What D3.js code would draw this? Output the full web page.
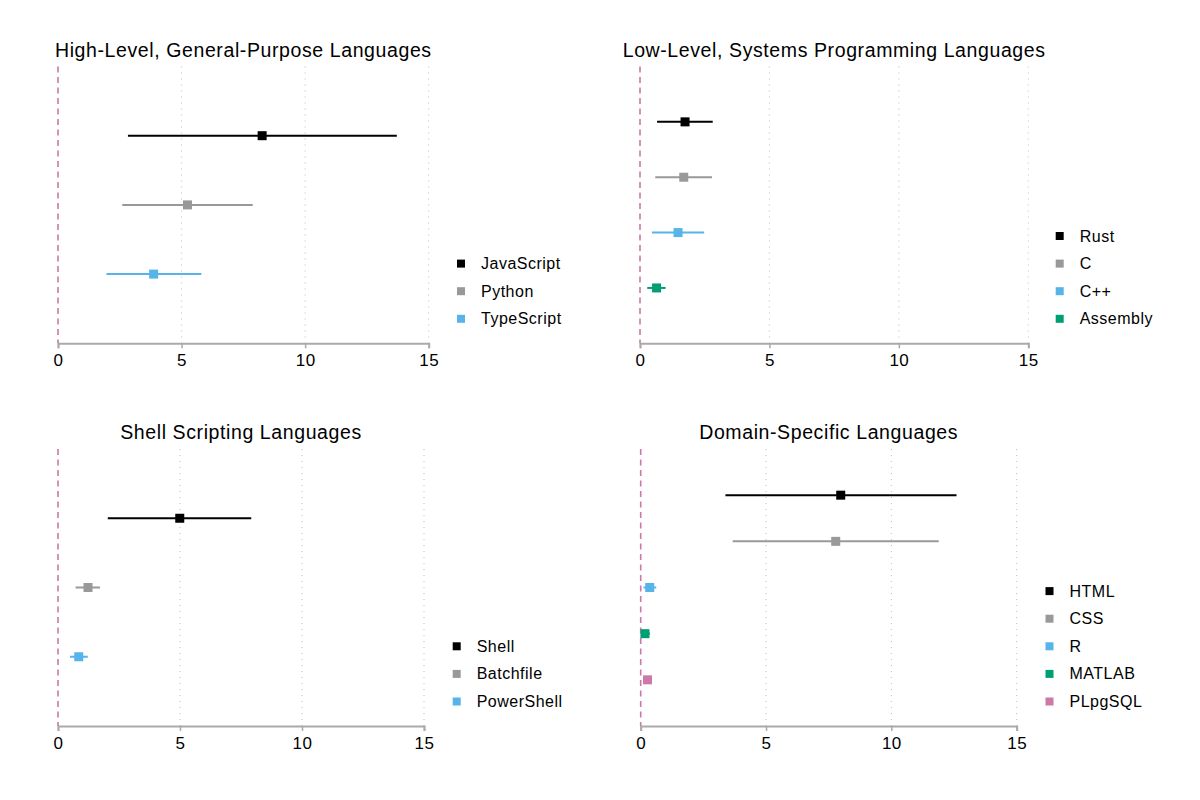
<!DOCTYPE html>
<html>
<head>
<meta charset="utf-8">
<script src="https://cdn.jsdelivr.net/npm/d3@7"></script>
<style>
  body { margin: 0; background: #fff; }
  text { font-family: "Liberation Sans", Arial, sans-serif; fill: #000; }
</style>
</head>
<body>
<div id="chart-container"></div>
<script>
// Panel titles
const titles = [
  "High-Level, General-Purpose Languages",
  "Low-Level, Systems Programming Languages",
  "Shell Scripting Languages",
  "Domain-Specific Languages",
];

// High-level languages: estimate with lower / upper bound
const highLevelLangs = ["JavaScript", "Python", "TypeScript"];
const highLevelEst = [8.26, 5.24, 3.87];
const highLevelLow = [2.83, 2.6, 1.96];
const highLevelHigh = [13.71, 7.88, 5.8];

// Systems languages
const systemsLangs = ["Rust", "C", "C++", "Assembly"];
const systemsEst = [1.74, 1.69, 1.47, 0.64];
const systemsLow = [0.66, 0.59, 0.46, 0.28];
const systemsHigh = [2.81, 2.78, 2.48, 0.99];

// Shell languages
const shellLangs = ["Shell", "Batchfile", "PowerShell"];
const shellEst = [4.99, 1.23, 0.85];
const shellLow = [2.04, 0.72, 0.49];
const shellHigh = [7.92, 1.72, 1.22];

// Domain-specific languages
const domainLangs = ["HTML", "CSS", "R", "MATLAB", "PLpgSQL"];
const domainEst = [7.98, 7.78, 0.36, 0.17, 0.27];
const domainLow = [3.38, 3.67, 0.11, 0.02, 0.2];
const domainHigh = [12.6, 11.89, 0.62, 0.37, 0.34];

// Shared x ticks and series colours
const xTicks = [0, 5, 10, 15];
const palette = ["#000000", "#999999", "#56B4E9", "#009E73", "#CC79A7"];

const width = 1200;
const height = 800;

// Plot box of each panel
const panels = [
  { langs: highLevelLangs, est: highLevelEst, low: highLevelLow, high: highLevelHigh,
    left: 58, right: 428.7, top: 66.5, bottom: 343.3, legendX: 461 },
  { langs: systemsLangs, est: systemsEst, low: systemsLow, high: systemsHigh,
    left: 640, right: 1028.3, top: 66.5, bottom: 343.3, legendX: 1059.7 },
  { langs: shellLangs, est: shellEst, low: shellLow, high: shellHigh,
    left: 58, right: 424, top: 449, bottom: 726, legendX: 456.7 },
  { langs: domainLangs, est: domainEst, low: domainLow, high: domainHigh,
    left: 640.7, right: 1016.7, top: 449, bottom: 726, legendX: 1049.5 },
];

const svg = d3
  .select("#chart-container")
  .append("svg")
  .attr("width", width)
  .attr("height", height);

panels.forEach((p, pi) => {
  const data = p.langs.map((name, i) => ({
    name,
    est: p.est[i],
    low: p.low[i],
    high: p.high[i],
    color: palette[i],
  }));

  const xScale = d3.scaleLinear().domain([0, 15]).range([p.left, p.right]);

  const yScale = d3
    .scalePoint()
    .domain(p.langs)
    .range([p.top, p.bottom])
    .padding(1); // same gap above first and below last row

  const g = svg.append("g");

  // Title centred over the plot
  g.append("text")
    .attr("x", (p.left + p.right) / 2)
    .attr("y", p.top - 10)
    .attr("text-anchor", "middle")
    .style("font-size", "19.5px")
    .style("letter-spacing", "0.6px")
    .text(titles[pi]);

  // Dotted vertical grid
  g.selectAll("line.grid")
    .data(xTicks.filter((t) => t > 0))
    .enter()
    .append("line")
    .attr("class", "grid")
    .attr("x1", (d) => xScale(d))
    .attr("x2", (d) => xScale(d))
    .attr("y1", p.top)
    .attr("y2", p.bottom)
    .attr("stroke", "#bdbdbd")
    .attr("stroke-width", 1)
    .attr("stroke-dasharray", "1,5");

  // X axis
  const axis = g
    .append("g")
    .attr("transform", `translate(0, ${p.bottom})`)
    .call(d3.axisBottom(xScale).tickValues(xTicks).tickSize(5).tickPadding(6));
  axis.select(".domain").attr("stroke", "#aaaaaa").attr("stroke-width", 2);
  axis.selectAll(".tick line").attr("stroke", "#aaaaaa").attr("stroke-width", 1.5);
  axis
    .selectAll(".tick text")
    .style("font-size", "17px")
    .style("letter-spacing", "0.5px")
    .style("font-family", '"Liberation Sans", Arial, sans-serif')
    .attr("fill", "#000");

  // Reference line at zero
  g.append("line")
    .attr("x1", xScale(0))
    .attr("x2", xScale(0))
    .attr("y1", p.top)
    .attr("y2", p.bottom)
    .attr("stroke", "#CC79A7")
    .attr("stroke-width", 1.6)
    .attr("stroke-dasharray", "6,4.5");

  // Confidence bars
  g.selectAll("line.ci")
    .data(data)
    .enter()
    .append("line")
    .attr("class", "ci")
    .attr("x1", (d) => xScale(d.low))
    .attr("x2", (d) => xScale(d.high))
    .attr("y1", (d) => yScale(d.name))
    .attr("y2", (d) => yScale(d.name))
    .attr("stroke", (d) => d.color)
    .attr("stroke-width", 2);

  // Point estimates
  const m = 9;
  g.selectAll("rect.pt")
    .data(data)
    .enter()
    .append("rect")
    .attr("class", "pt")
    .attr("x", (d) => xScale(d.est) - m / 2)
    .attr("y", (d) => yScale(d.name) - m / 2)
    .attr("width", m)
    .attr("height", m)
    .attr("fill", (d) => d.color);

  // Legend, stacked up from the bottom of the plot
  const rowH = 27.6;
  const lastY = p.bottom - 24.5;
  const leg = g
    .selectAll("g.leg")
    .data(data)
    .enter()
    .append("g")
    .attr("class", "leg")
    .attr(
      "transform",
      (d, i) => `translate(${p.legendX}, ${lastY - (data.length - 1 - i) * rowH})`
    );
  leg
    .append("rect")
    .attr("x", -4)
    .attr("y", -4)
    .attr("width", 8)
    .attr("height", 8)
    .attr("fill", (d) => d.color);
  leg
    .append("text")
    .attr("x", 20)
    .attr("y", 5.5)
    .style("font-size", "16px")
    .style("letter-spacing", "0.5px")
    .text((d) => d.name);
});
</script>
</body>
</html>
